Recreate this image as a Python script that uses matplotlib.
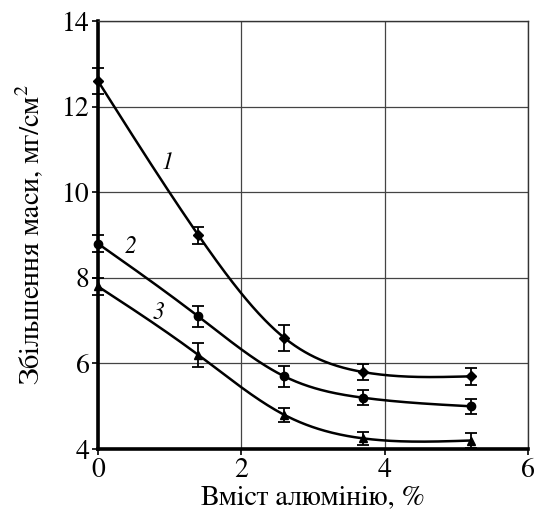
import numpy as np
import matplotlib
matplotlib.use("Agg")
import matplotlib.pyplot as plt

plt.rcParams['font.family'] = ['FreeSerif', 'DejaVu Serif']
plt.rcParams['mathtext.fontset'] = 'custom'
plt.rcParams['mathtext.rm'] = 'FreeSerif'

# вміст алюмінію, %
al = [0, 1.4, 2.6, 3.7, 5.2]

# збільшення маси, мг/см2, та похибки
mass_1 = [12.6, 9.0, 6.6, 5.8, 5.7]
err_1 = [0.3, 0.2, 0.3, 0.18, 0.2]
mass_2 = [8.8, 7.1, 5.7, 5.2, 5.0]
err_2 = [0.2, 0.25, 0.25, 0.17, 0.17]
mass_3 = [7.8, 6.2, 4.8, 4.25, 4.2]
err_3 = [0.2, 0.28, 0.17, 0.15, 0.18]

series = [
    ('1', mass_1, err_1, 'D', (0.98, 10.68)),
    ('2', mass_2, err_2, 'o', (0.45, 8.72)),
    ('3', mass_3, err_3, '^', (0.85, 7.18)),
]


def natural_spline(x, y, xs):
    # природний кубічний сплайн через точки
    x = np.asarray(x, float)
    y = np.asarray(y, float)
    n = len(x)
    h = np.diff(x)
    A = np.zeros((n, n))
    b = np.zeros(n)
    A[0, 0] = A[-1, -1] = 1
    for i in range(1, n - 1):
        A[i, i - 1] = h[i - 1]
        A[i, i] = 2 * (h[i - 1] + h[i])
        A[i, i + 1] = h[i]
        b[i] = 6 * ((y[i + 1] - y[i]) / h[i] - (y[i] - y[i - 1]) / h[i - 1])
    M = np.linalg.solve(A, b)
    idx = np.clip(np.searchsorted(x, xs) - 1, 0, n - 2)
    x0, x1 = x[idx], x[idx + 1]
    hh = x1 - x0
    t0, t1 = x1 - xs, xs - x0
    return (M[idx] * t0 ** 3 / (6 * hh) + M[idx + 1] * t1 ** 3 / (6 * hh)
            + (y[idx] / hh - M[idx] * hh / 6) * t0
            + (y[idx + 1] / hh - M[idx + 1] * hh / 6) * t1)


fig = plt.figure(figsize=(5.37, 5.15), dpi=100)
ax = fig.add_axes([0.1825, 0.128, 0.8005, 0.831])

xs = np.linspace(0, max(al), 300)
for name, y, e, m, pos in series:
    ax.plot(xs, natural_spline(al, y, xs), color='black', lw=1.8, zorder=3)
    ax.errorbar(al, y, yerr=e, fmt=m, color='black', ms=6 if m == 'o' else 5.5,
                elinewidth=1.3, capsize=4, capthick=1.3, zorder=4, clip_on=False)
    ax.text(pos[0], pos[1], name, fontsize=17, style='italic',
            ha='center', va='center')

ax.set_xlim(0, 6)
ax.set_ylim(4, 14)
ax.set_xticks([0, 2, 4, 6])
ax.set_yticks([4, 6, 8, 10, 12, 14])
ax.tick_params(labelsize=20, length=4, width=1.2, direction='out', pad=2)
ax.grid(True, color='#444444', lw=0.9)
ax.set_axisbelow(True)

for s in ('left', 'bottom'):
    ax.spines[s].set_linewidth(2.6)
for s in ('top', 'right'):
    ax.spines[s].set_linewidth(1.0)
    ax.spines[s].set_color('#333333')

ax.set_xlabel('Вміст алюмінію, %', fontsize=20.5, labelpad=2)
ax.set_ylabel('Збільшення маси, мг/см$^2$', fontsize=20.5, labelpad=11)

fig.savefig('out.png', dpi=100)
